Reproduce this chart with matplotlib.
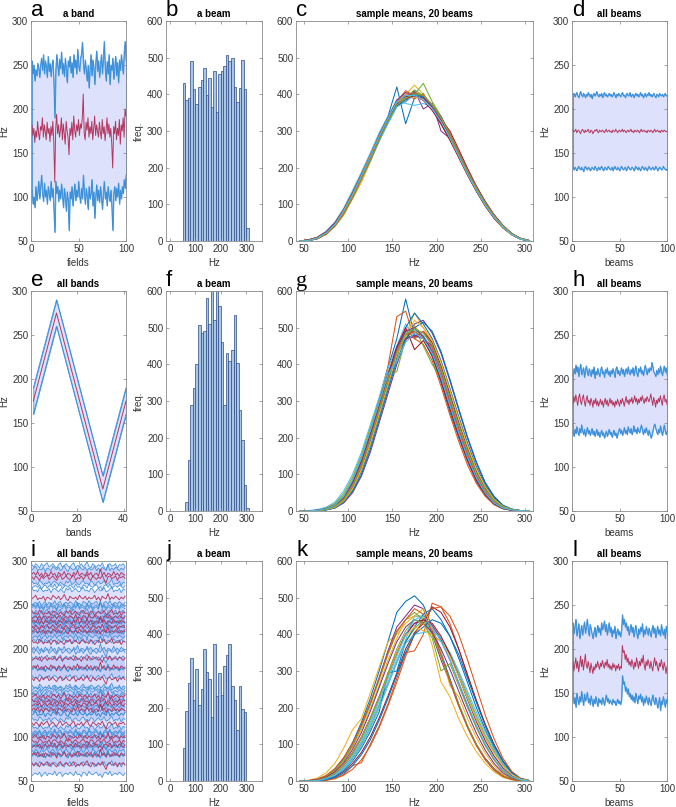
import numpy as np
import matplotlib
matplotlib.use('Agg')
import matplotlib.pyplot as plt

plt.rcParams['font.family'] = ['Liberation Sans', 'DejaVu Sans']
plt.rcParams['font.size'] = 7

# ---------------- data ----------------
fields = np.arange(1, 101)

a_upper = [255, 240, 250, 232, 245, 238, 252, 247, 236, 250,
           258, 244, 262, 240, 255, 248, 236, 260, 243, 252,
           237, 249, 256, 230, 190, 245, 262, 250, 238, 257,
           246, 265, 240, 252, 237, 258, 244, 230, 255, 248,
           260, 241, 253, 236, 262, 247, 256, 240, 268, 250,
           243, 258, 262, 276, 252, 240, 256, 244, 232, 250,
           224, 246, 262, 238, 256, 248, 228, 252, 266, 243,
           255, 236, 250, 262, 240, 258, 277, 246, 232, 254,
           240, 262, 228, 250, 244, 258, 234, 248, 260, 238,
           253, 230, 256, 244, 262, 250, 240, 265, 277, 255]
a_mean = [182, 170, 178, 162, 175, 168, 186, 172, 165, 180,
          176, 190, 168, 182, 174, 165, 185, 172, 178, 163,
          180, 170, 186, 162, 117, 178, 194, 172, 182, 168,
          176, 190, 165, 183, 172, 160, 186, 175, 168, 148,
          178, 170, 185, 165, 192, 176, 168, 182, 175, 188,
          170, 183, 178, 190, 217, 172, 165, 185, 176, 190,
          168, 180, 172, 186, 165, 178, 192, 170, 182, 175,
          168, 185, 174, 166, 188, 172, 180, 164, 176, 190,
          172, 183, 168, 178, 160, 133, 180, 172, 186, 165,
          178, 170, 188, 160, 182, 175, 190, 168, 200, 192]
a_lower = [108, 92, 100, 88, 112, 96, 105, 118, 98, 110,
           125, 104, 95, 116, 100, 108, 92, 112, 104, 96,
           118, 100, 110, 85, 60, 118, 104, 112, 95, 108,
           98, 115, 102, 88, 110, 100, 84, 106, 95, 62,
           106, 98, 112, 90, 104, 115, 96, 108, 100, 118,
           102, 93, 110, 98, 125, 104, 92, 110, 100, 86,
           112, 98, 104, 120, 90, 106, 76, 100, 114, 96,
           108, 94, 112, 100, 86, 104, 118, 98, 106, 90,
           112, 100, 95, 108, 88, 62, 104, 112, 96, 110,
           100, 116, 92, 108, 98, 112, 104, 120, 110, 125]

d_upper = [216, 218, 214, 217, 219, 215, 213, 217, 220, 216,
           214, 218, 216, 213, 217, 215, 219, 216, 214, 217,
           212, 216, 218, 215, 217, 220, 216, 214, 217, 215,
           218, 213, 216, 219, 215, 217, 214, 216, 218, 215,
           217, 214, 216, 219, 216, 213, 217, 215, 218, 216,
           214, 217, 219, 215, 216, 213, 217, 218, 215, 216,
           219, 214, 216, 217, 213, 216, 218, 215, 217, 214,
           216, 219, 215, 217, 213, 216, 218, 214, 217, 216,
           219, 215, 217, 214, 216, 218, 215, 213, 217, 216,
           214, 218, 216, 215, 217, 214, 216, 218, 215, 216]
d_mean = [176, 174, 175, 177, 173, 175, 176, 174, 172, 175,
          177, 175, 173, 176, 174, 175, 177, 174, 173, 176,
          175, 172, 174, 176, 175, 177, 174, 173, 176, 175,
          174, 176, 175, 173, 175, 177, 174, 175, 176, 174,
          175, 173, 176, 175, 174, 177, 175, 173, 175, 176,
          174, 175, 177, 174, 176, 175, 173, 175, 176, 174,
          175, 177, 174, 175, 173, 176, 175, 174, 176, 175,
          173, 175, 177, 174, 175, 176, 174, 175, 173, 176,
          175, 174, 176, 175, 173, 175, 177, 174, 175, 176,
          174, 175, 173, 176, 175, 174, 176, 175, 174, 175]
d_lower = [133, 131, 134, 132, 130, 133, 135, 132, 131, 134,
           132, 129, 133, 135, 132, 131, 134, 133, 130, 132,
           134, 132, 131, 135, 133, 130, 132, 134, 131, 133,
           135, 132, 130, 133, 134, 131, 132, 135, 133, 131,
           132, 134, 130, 133, 135, 132, 131, 134, 132, 130,
           133, 135, 132, 131, 133, 134, 130, 132, 135, 133,
           131, 132, 134, 133, 130, 132, 135, 133, 131, 134,
           132, 130, 133, 135, 132, 131, 134, 132, 130, 133,
           135, 132, 131, 133, 134, 131, 132, 135, 133, 130,
           132, 134, 133, 131, 132, 135, 133, 131, 132, 130]

h_upper = [204, 212, 206, 216, 208, 214, 203, 211, 217, 205,
           209, 213, 202, 210, 215, 207, 204, 212, 208, 203,
           211, 206, 214, 201, 209, 205, 212, 207, 203, 210,
           214, 206, 209, 202, 211, 207, 213, 205, 209, 203,
           210, 206, 212, 208, 202, 211, 214, 206, 210, 204,
           208, 213, 206, 211, 203, 209, 212, 206, 214, 208,
           205, 211, 207, 213, 204, 210, 215, 207, 203, 212,
           208, 214, 206, 210, 204, 211, 216, 209, 205, 212,
           208, 213, 210, 219, 214, 208, 206, 203, 210, 205,
           212, 207, 215, 209, 204, 211, 215, 208, 213, 205]
h_mean = [172, 180, 174, 182, 176, 170, 179, 183, 175, 171,
          178, 182, 174, 169, 177, 181, 173, 176, 170, 178,
          174, 168, 176, 172, 178, 170, 175, 169, 173, 177,
          171, 175, 168, 174, 178, 171, 176, 169, 173, 178,
          172, 176, 170, 174, 168, 175, 171, 177, 173, 169,
          176, 172, 178, 174, 169, 175, 180, 173, 176, 171,
          177, 174, 179, 172, 176, 181, 174, 178, 171, 177,
          173, 179, 175, 181, 176, 172, 178, 174, 180, 177,
          174, 178, 183, 176, 170, 179, 175, 168, 176, 172,
          178, 174, 181, 176, 170, 178, 182, 174, 177, 171]
h_lower = [140, 135, 143, 138, 146, 140, 136, 144, 139, 148,
           141, 137, 143, 135, 140, 145, 138, 142, 136, 140,
           144, 137, 141, 135, 139, 143, 136, 140, 134, 138,
           142, 136, 139, 133, 137, 141, 135, 139, 143, 137,
           140, 134, 138, 142, 136, 139, 133, 137, 141, 144,
           138, 142, 136, 140, 145, 138, 142, 137, 146, 141,
           139, 144, 137, 141, 147, 140, 143, 138, 145, 141,
           139, 144, 148, 141, 137, 143, 139, 145, 140, 136,
           142, 138, 133, 136, 141, 146, 149, 144, 140, 137,
           143, 139, 147, 141, 136, 142, 148, 140, 137, 141]

l_upper = [230, 218, 226, 234, 215, 222, 229, 212, 220, 227,
           216, 224, 231, 218, 226, 234, 221, 215, 228, 223,
           217, 212, 219, 225, 214, 221, 227, 219, 224, 216,
           230, 222, 226, 232, 220, 228, 216, 224, 230, 219,
           225, 214, 222, 218, 226, 212, 219, 223, 216, 220,
           214, 222, 239, 228, 234, 225, 230, 221, 226, 216,
           223, 228, 219, 225, 214, 221, 227, 218, 212, 223,
           217, 225, 220, 229, 214, 222, 217, 226, 221, 216,
           224, 219, 214, 222, 227, 218, 224, 213, 220, 226,
           217, 222, 215, 228, 220, 216, 223, 212, 226, 219]
l_mean = [185, 175, 183, 190, 178, 186, 174, 182, 192, 180,
          188, 176, 184, 194, 182, 178, 186, 180, 173, 184,
          178, 172, 180, 176, 183, 179, 186, 181, 177, 184,
          180, 187, 182, 178, 185, 181, 188, 179, 183, 177,
          181, 176, 184, 179, 182, 175, 181, 178, 183, 176,
          180, 178, 204, 196, 198, 188, 194, 185, 190, 182,
          186, 180, 188, 183, 177, 185, 180, 190, 184, 178,
          186, 181, 189, 184, 193, 182, 176, 186, 181, 188,
          183, 178, 186, 180, 175, 184, 190, 181, 186, 179,
          175, 184, 180, 188, 182, 176, 185, 180, 172, 180]
l_lower = [148, 138, 145, 134, 150, 142, 137, 146, 140, 152,
           143, 136, 149, 141, 145, 151, 139, 144, 137, 147,
           141, 135, 143, 138, 146, 140, 135, 144, 139, 142,
           137, 145, 141, 136, 143, 148, 140, 144, 138, 142,
           140, 137, 143, 139, 141, 136, 140, 143, 138, 141,
           137, 142, 170, 160, 163, 152, 157, 149, 155, 146,
           150, 143, 148, 141, 146, 139, 150, 144, 138, 147,
           143, 149, 140, 146, 136, 144, 139, 147, 142, 137,
           145, 140, 136, 143, 148, 141, 137, 145, 140, 133,
           138, 145, 130, 141, 137, 146, 140, 134, 143, 138]

# panel e: zig-zag of band centres
e_bands = [1, 11, 31, 41]
e_upper = [190, 290, 90, 190]
e_mean = [175, 275, 75, 175]
e_lower = [160, 260, 60, 160]

# panel i: band centres + hand-read wiggle profiles
i_fields = np.arange(1, 101, 2)
i_means = [285, 281, 258, 241, 236, 231, 225, 220, 208, 189, 179,
           166, 146, 141, 137, 131, 115, 100, 95, 90, 80, 69]
i_halfwidth = [10, 10, 9, 11, 11, 11, 11, 11, 11, 11, 11,
               11, 11, 11, 11, 11, 11, 11, 11, 11, 11, 11]
i_wiggles = [
    [0, 2, -1, 3, -2, 1, -3, 2, 0, -2, 3, -1, 1, -4, 2, 0, -1, 3, -2, 1, 0, -3, 2, -1, 4,
     -2, 1, 0, -2, 3, -1, 2, -3, 0, 1, -2, 6, -1, 2, -3, 1, 0, -2, 3, -1, 1, -2, 2, 0, -1],
    [1, -2, 2, 0, -3, 2, -1, 1, 3, -2, 0, 2, -1, -3, 1, 3, -2, 0, 2, -1, -2, 1, 3, -3, 0,
     -1, 2, -2, 1, 4, -1, -3, 2, 0, -2, 1, -1, 3, -2, -6, 1, 2, -1, 0, 2, -3, 1, 0, 2, -1],
    [-1, 1, 3, -2, 0, -1, 2, -3, 1, 0, -2, 3, 1, -1, 2, -2, 0, 4, -1, -3, 2, 0, -1, 1, -2,
     3, 0, -1, 2, -2, 1, -1, 0, 3, -2, 1, -3, 2, 0, -1, 5, -2, 1, -1, 2, 0, -2, 1, -1, 2],
    [2, -1, 0, -2, 3, 1, -2, 0, -1, 2, -3, 1, 2, 0, -2, 1, -1, -3, 2, 0, 3, -2, 0, 2, -1,
     -2, 1, 3, -1, 0, -2, 2, 1, -3, 0, 2, -1, 0, 3, -2, -1, 1, 4, -2, 0, -1, 2, -3, 1, 0],
    [-2, 0, 1, -1, 2, -3, 0, 2, -2, 1, 0, -1, 3, -2, 1, 2, -3, 0, 1, -1, 2, 0, -2, 3, -1,
     0, -3, 2, 1, -2, 3, 0, -1, 1, 2, -2, 0, -4, 1, 2, -1, 3, -2, 0, 1, -1, 2, 0, -2, 1],
]

# histograms (10 Hz bins starting at 0 Hz)
b_counts = [0, 0, 0, 0, 0, 430, 385, 390, 490, 415, 375, 420, 440, 472, 397, 445, 365,
            465, 352, 455, 465, 477, 507, 490, 500, 420, 378, 418, 494, 415, 35]
f_counts = [0, 0, 0, 0, 0, 0, 25, 140, 290, 335, 400, 508, 485, 490, 580, 510, 620, 520,
            640, 560, 460, 290, 430, 410, 440, 535, 405, 275, 195, 70, 8]
j_counts = [0, 0, 0, 0, 0, 90, 190, 268, 335, 222, 305, 207, 250, 360, 298, 278, 175,
            373, 232, 295, 235, 313, 343, 375, 260, 222, 140, 258, 197, 187]

# sample-mean curves, 20 beams each, at 10 Hz steps
curve_hz = np.arange(45, 306, 10)
c_curves = [
    [0, 1, 6, 20, 48, 85, 130, 180, 230, 290, 340, 420, 320, 390, 395, 370, 340, 290, 230, 180, 135, 95, 62, 36, 17, 5, 0],
    [0, 3, 10, 25, 42, 78, 120, 170, 228, 278, 325, 380, 410, 395, 385, 360, 325, 280, 240, 190, 142, 102, 66, 40, 20, 7, 1],
    [0, 2, 7, 18, 40, 70, 115, 160, 215, 272, 330, 385, 400, 425, 400, 370, 335, 290, 238, 188, 145, 105, 70, 40, 19, 6, 0],
    [0, 1, 8, 22, 46, 82, 128, 178, 226, 284, 335, 370, 380, 410, 360, 375, 300, 280, 232, 182, 138, 98, 64, 37, 18, 5, 1],
    [0, 2, 9, 24, 50, 84, 132, 182, 232, 285, 332, 378, 395, 400, 430, 380, 340, 290, 236, 186, 140, 100, 66, 38, 18, 6, 1],
    [0, 3, 10, 26, 52, 90, 138, 188, 240, 295, 340, 385, 375, 370, 375, 365, 335, 288, 240, 190, 146, 106, 70, 42, 20, 7, 1],
    [0, 2, 7, 20, 44, 78, 122, 172, 222, 276, 328, 372, 390, 400, 385, 368, 332, 300, 250, 198, 150, 108, 72, 43, 21, 7, 1],
    [0, 1, 6, 19, 42, 76, 120, 170, 220, 274, 322, 368, 385, 405, 395, 372, 338, 292, 242, 192, 146, 104, 68, 40, 19, 6, 1],
    [0, 2, 8, 23, 47, 83, 127, 176, 227, 282, 332, 380, 398, 388, 402, 360, 318, 275, 228, 180, 136, 97, 63, 36, 17, 5, 0],
    [0, 3, 9, 24, 46, 80, 124, 174, 224, 279, 328, 376, 392, 398, 388, 362, 328, 284, 234, 184, 139, 99, 65, 38, 18, 6, 1],
    [0, 2, 8, 22, 44, 78, 126, 176, 226, 280, 334, 384, 405, 395, 384, 358, 322, 280, 232, 183, 140, 100, 66, 39, 19, 6, 1],
    [0, 1, 7, 21, 45, 82, 124, 174, 222, 278, 326, 372, 392, 412, 396, 370, 334, 286, 236, 186, 142, 102, 67, 39, 18, 6, 1],
    [0, 2, 8, 22, 46, 80, 122, 170, 220, 272, 320, 365, 380, 398, 392, 368, 336, 292, 240, 190, 144, 103, 68, 41, 20, 7, 1],
    [0, 3, 10, 25, 49, 86, 132, 182, 234, 288, 336, 380, 394, 396, 384, 356, 320, 276, 228, 180, 136, 96, 62, 36, 17, 5, 0],
    [0, 2, 8, 21, 43, 79, 125, 175, 225, 281, 331, 376, 395, 402, 392, 364, 326, 282, 234, 186, 141, 101, 66, 39, 19, 6, 1],
    [0, 1, 6, 18, 40, 74, 118, 168, 220, 276, 328, 375, 397, 404, 396, 372, 338, 294, 244, 193, 147, 105, 69, 41, 20, 7, 1],
    [0, 2, 9, 23, 47, 84, 128, 180, 232, 286, 334, 378, 390, 393, 386, 362, 328, 283, 233, 183, 138, 98, 64, 37, 17, 6, 1],
    [0, 3, 9, 24, 48, 81, 126, 178, 228, 283, 330, 374, 388, 396, 390, 366, 330, 287, 238, 188, 143, 103, 67, 40, 19, 6, 1],
    [0, 2, 7, 20, 43, 78, 121, 171, 221, 275, 325, 371, 389, 401, 398, 372, 336, 289, 239, 189, 144, 104, 69, 41, 20, 6, 1],
    [0, 1, 8, 22, 45, 81, 127, 177, 229, 284, 333, 380, 397, 397, 385, 360, 325, 281, 232, 183, 139, 99, 65, 38, 18, 5, 0],
]
g_curves = [
    [0, 0, 1, 5, 14, 38, 78, 135, 210, 300, 390, 470, 578, 480, 470, 420, 350, 270, 200, 135, 80, 42, 18, 6, 2, 0, 0],
    [0, 0, 2, 6, 16, 40, 82, 142, 220, 305, 395, 530, 545, 470, 455, 410, 340, 262, 190, 125, 75, 40, 17, 6, 2, 0, 0],
    [0, 0, 1, 4, 11, 28, 60, 110, 180, 260, 340, 420, 480, 540, 500, 455, 390, 315, 240, 170, 108, 62, 30, 12, 4, 1, 0],
    [0, 0, 1, 3, 8, 22, 50, 95, 160, 240, 320, 400, 465, 510, 520, 485, 430, 355, 275, 198, 130, 75, 38, 15, 5, 1, 0],
    [0, 0, 2, 7, 18, 42, 85, 145, 215, 290, 370, 380, 470, 500, 450, 400, 360, 290, 215, 148, 92, 50, 23, 9, 3, 1, 0],
    [0, 1, 4, 10, 24, 55, 100, 160, 235, 310, 390, 450, 510, 470, 480, 430, 360, 282, 208, 140, 85, 45, 20, 7, 2, 0, 0],
    [0, 0, 1, 4, 12, 32, 72, 128, 200, 280, 365, 440, 470, 475, 490, 460, 395, 315, 235, 162, 100, 56, 27, 11, 4, 1, 0],
    [0, 0, 1, 3, 9, 26, 58, 108, 178, 258, 340, 420, 500, 540, 510, 470, 410, 335, 258, 185, 120, 70, 35, 14, 5, 1, 0],
    [0, 0, 2, 6, 15, 36, 75, 132, 205, 285, 365, 445, 495, 470, 490, 450, 385, 305, 228, 156, 96, 52, 24, 9, 3, 1, 0],
    [0, 0, 1, 5, 13, 33, 70, 124, 196, 276, 356, 435, 475, 505, 475, 440, 380, 305, 230, 160, 100, 56, 27, 11, 4, 1, 0],
    [0, 0, 1, 4, 11, 30, 66, 120, 192, 272, 352, 430, 470, 480, 470, 450, 395, 320, 242, 170, 108, 62, 30, 12, 4, 1, 0],
    [0, 0, 2, 8, 20, 48, 92, 152, 226, 300, 378, 440, 490, 495, 475, 430, 360, 284, 210, 142, 86, 46, 21, 8, 2, 0, 0],
    [0, 0, 1, 5, 14, 36, 76, 132, 204, 282, 362, 435, 485, 495, 478, 440, 378, 300, 225, 155, 96, 53, 25, 10, 3, 1, 0],
    [0, 0, 2, 6, 16, 38, 80, 138, 212, 292, 372, 448, 500, 440, 465, 425, 355, 278, 205, 138, 84, 45, 20, 7, 2, 0, 0],
    [0, 0, 1, 3, 9, 24, 54, 100, 168, 248, 330, 410, 470, 500, 515, 490, 435, 360, 280, 202, 134, 78, 40, 16, 5, 1, 0],
    [0, 0, 1, 5, 13, 34, 72, 128, 200, 280, 360, 438, 480, 490, 470, 445, 380, 300, 225, 155, 95, 52, 24, 9, 3, 1, 0],
    [0, 0, 1, 4, 10, 27, 60, 112, 182, 262, 344, 425, 480, 520, 500, 465, 405, 330, 252, 178, 114, 66, 32, 13, 4, 1, 0],
    [0, 0, 2, 6, 15, 37, 78, 136, 210, 290, 370, 445, 490, 500, 475, 435, 368, 290, 215, 146, 90, 49, 22, 8, 3, 1, 0],
    [0, 0, 1, 4, 12, 31, 68, 122, 194, 274, 356, 432, 482, 498, 485, 452, 390, 312, 236, 165, 104, 58, 28, 11, 4, 1, 0],
    [0, 0, 2, 6, 16, 40, 84, 144, 218, 295, 372, 410, 460, 485, 470, 430, 365, 288, 214, 146, 90, 49, 22, 8, 3, 1, 0],
]
k_curves = [
    [0, 1, 4, 14, 32, 62, 105, 160, 225, 300, 380, 460, 490, 505, 480, 420, 350, 280, 210, 150, 98, 58, 30, 13, 4, 1, 0],
    [0, 0, 0, 2, 8, 18, 42, 50, 100, 150, 210, 280, 350, 355, 400, 485, 475, 430, 360, 285, 215, 150, 95, 52, 22, 6, 1],
    [0, 2, 8, 22, 48, 90, 140, 170, 240, 310, 380, 400, 430, 450, 445, 370, 270, 230, 170, 120, 80, 48, 25, 10, 3, 1, 0],
    [0, 1, 4, 12, 28, 56, 96, 150, 210, 282, 355, 420, 450, 480, 470, 400, 330, 270, 205, 148, 100, 62, 34, 15, 5, 1, 0],
    [0, 0, 2, 7, 18, 36, 62, 100, 148, 205, 265, 325, 380, 415, 440, 420, 390, 350, 295, 235, 178, 125, 82, 46, 20, 6, 1],
    [0, 0, 1, 6, 16, 35, 66, 105, 155, 210, 270, 330, 385, 450, 450, 400, 380, 345, 290, 230, 172, 120, 78, 44, 20, 6, 1],
    [0, 0, 1, 4, 12, 26, 48, 78, 120, 172, 232, 295, 360, 405, 430, 475, 460, 420, 360, 290, 220, 155, 100, 55, 24, 7, 1],
    [0, 0, 1, 5, 14, 30, 55, 90, 135, 188, 295, 300, 380, 420, 455, 470, 440, 395, 335, 268, 200, 140, 90, 50, 22, 6, 1],
    [0, 0, 0, 2, 6, 16, 32, 58, 95, 145, 205, 270, 340, 400, 440, 470, 475, 450, 400, 330, 255, 180, 115, 62, 26, 7, 1],
    [0, 1, 3, 12, 28, 55, 92, 140, 198, 262, 330, 390, 440, 450, 470, 420, 350, 260, 230, 170, 118, 76, 42, 18, 6, 1, 0],
    [0, 0, 2, 8, 20, 42, 74, 116, 168, 226, 288, 348, 400, 430, 440, 425, 385, 330, 268, 205, 148, 98, 58, 28, 10, 2, 0],
    [0, 1, 4, 13, 30, 58, 98, 148, 208, 275, 345, 405, 440, 460, 440, 400, 340, 275, 210, 150, 100, 60, 32, 14, 5, 1, 0],
    [0, 0, 1, 5, 15, 32, 58, 95, 142, 198, 260, 322, 375, 400, 405, 410, 390, 350, 300, 244, 188, 134, 88, 50, 22, 6, 1],
    [0, 0, 2, 8, 22, 45, 78, 120, 172, 230, 290, 350, 400, 430, 440, 430, 395, 345, 285, 222, 162, 110, 68, 36, 14, 4, 0],
    [0, 0, 1, 4, 10, 22, 42, 72, 112, 165, 225, 290, 350, 400, 420, 440, 430, 395, 345, 280, 215, 152, 98, 54, 22, 6, 1],
    [0, 1, 5, 15, 34, 64, 104, 154, 214, 280, 350, 410, 440, 470, 455, 410, 345, 272, 205, 145, 96, 58, 30, 12, 4, 1, 0],
    [0, 0, 2, 9, 22, 44, 76, 118, 170, 228, 290, 350, 395, 420, 410, 400, 380, 340, 285, 225, 168, 118, 76, 42, 18, 5, 1],
    [0, 1, 3, 10, 25, 50, 86, 132, 190, 255, 320, 380, 420, 440, 430, 405, 360, 305, 245, 185, 130, 84, 48, 22, 8, 2, 0],
    [0, 0, 2, 8, 20, 42, 75, 118, 170, 230, 295, 360, 410, 440, 430, 390, 300, 320, 260, 200, 145, 96, 58, 28, 10, 2, 0],
    [0, 0, 1, 6, 17, 36, 68, 108, 160, 218, 280, 340, 400, 440, 450, 420, 380, 330, 270, 210, 152, 102, 62, 32, 12, 3, 0],
]

# ---------------- style ----------------
BLUE = '#3a8fd9'
RED = '#b3375f'
FILL = (0.62, 0.67, 0.96, 0.35)
BAR_FACE = '#a8c6e6'
BAR_EDGE = '#2d4a86'
LINE_COLORS = ['#0072BD', '#D95319', '#EDB120', '#7E2F8E', '#77AC30', '#4DBEEE', '#A2142F']

W, H = 676, 807
fig = plt.figure(figsize=(W / 100, H / 100), dpi=100)

col_left = [31, 166, 296, 572]
col_width = [95, 96, 237, 95]
row_top = [21, 291, 561]
ROW_H = 220


def make_axes(r, c):
    left, width, top = col_left[c], col_width[c], row_top[r]
    ax = fig.add_axes([left / W, 1 - (top + ROW_H) / H, width / W, ROW_H / H])
    ax.tick_params(direction='in', top=True, right=True, length=2.5, width=0.5,
                   color='#808080', labelcolor='#333333', labelsize=7, pad=2)
    for s in ax.spines.values():
        s.set_color('#8a8a8a')
        s.set_linewidth(0.6)
    return ax


def letter(r, c, txt, serif=False):
    fam = ['Liberation Serif'] if serif else ['Liberation Sans', 'DejaVu Sans']
    fig.text(col_left[c] / W, 1 - (row_top[r] - 5) / H, txt, fontsize=16,
             family=fam, ha='left', va='baseline')


def band(ax, x, lo, mid, hi):
    ax.fill_between(x, lo, hi, facecolor=FILL, edgecolor=BLUE, linewidth=0.6)
    ax.plot(x, hi, color=BLUE, lw=0.6)
    ax.plot(x, lo, color=BLUE, lw=0.6)
    ax.plot(x, mid, color=RED, lw=0.7)


def band_axes(ax, title, xlabel, xmax=100):
    ax.set_xlim(0, xmax)
    ax.set_ylim(50, 300)
    ax.set_yticks(range(50, 301, 50))
    ax.set_title(title, fontweight='bold', fontsize=7, pad=3)
    ax.set_xlabel(xlabel, labelpad=3, color='#333333')
    ax.set_ylabel('Hz', labelpad=2, color='#333333')


def hist(ax, counts):
    edges = np.arange(len(counts)) * 10
    ax.bar(edges, counts, width=10, align='edge', color=BAR_FACE,
           edgecolor=BAR_EDGE, linewidth=0.5)
    ax.set_xlim(-16, 362)
    ax.set_ylim(0, 600)
    ax.set_xticks([0, 100, 200, 300])
    ax.set_yticks(range(0, 601, 100))
    ax.set_title('a beam', fontweight='bold', fontsize=7, pad=3)
    ax.set_xlabel('Hz', labelpad=3, color='#333333')
    ax.set_ylabel('freq.', labelpad=2, color='#333333')


def curves(ax, data):
    for n, y in enumerate(data):
        ax.plot(curve_hz, y, color=LINE_COLORS[n % len(LINE_COLORS)], lw=0.75)
    ax.set_xlim(41, 309)
    ax.set_ylim(0, 600)
    ax.set_xticks(range(50, 301, 50))
    ax.set_yticks(range(0, 601, 100))
    ax.set_title('sample means, 20 beams', fontweight='bold', fontsize=7, pad=3)
    ax.set_xlabel('Hz', labelpad=3, color='#333333')


# row 1
ax = make_axes(0, 0)
band(ax, fields, a_lower, a_mean, a_upper)
band_axes(ax, 'a band', 'fields')
ax = make_axes(0, 1)
hist(ax, b_counts)
ax = make_axes(0, 2)
curves(ax, c_curves)
ax = make_axes(0, 3)
band(ax, fields, d_lower, d_mean, d_upper)
band_axes(ax, 'all beams', 'beams')

# row 2
ax = make_axes(1, 0)
band(ax, e_bands, e_lower, e_mean, e_upper)
band_axes(ax, 'all bands', 'bands', xmax=41)
ax.set_xticks([0, 20, 40])
ax = make_axes(1, 1)
hist(ax, f_counts)
ax = make_axes(1, 2)
curves(ax, g_curves)
ax = make_axes(1, 3)
band(ax, fields, h_lower, h_mean, h_upper)
band_axes(ax, 'all beams', 'beams')

# row 3
ax = make_axes(2, 0)
nw = len(i_wiggles)
for k, m in enumerate(i_means):
    w = i_halfwidth[k]
    hi = m + w + np.array(i_wiggles[(k + 1) % nw])
    lo = m - w + np.array(i_wiggles[(k + 3) % nw])
    ax.fill_between(i_fields, lo, hi, facecolor=FILL, edgecolor='none')
for k, m in enumerate(i_means):
    w = i_halfwidth[k]
    ax.plot(i_fields, m + w + np.array(i_wiggles[(k + 1) % nw]), color=BLUE, lw=0.55)
    ax.plot(i_fields, m - w + np.array(i_wiggles[(k + 3) % nw]), color=BLUE, lw=0.55)
for k, m in enumerate(i_means):
    ax.plot(i_fields, m + np.array(i_wiggles[k % nw]), color=RED, lw=0.65)
band_axes(ax, 'all bands', 'fields')
ax = make_axes(2, 1)
hist(ax, j_counts)
ax = make_axes(2, 2)
curves(ax, k_curves)
ax = make_axes(2, 3)
band(ax, fields, l_lower, l_mean, l_upper)
band_axes(ax, 'all beams', 'beams')

for r, row in enumerate(['abcd', 'efgh', 'ijkl']):
    for c, t in enumerate(row):
        letter(r, c, t, serif=(t == 'g'))

fig.savefig('out.png', dpi=100)
